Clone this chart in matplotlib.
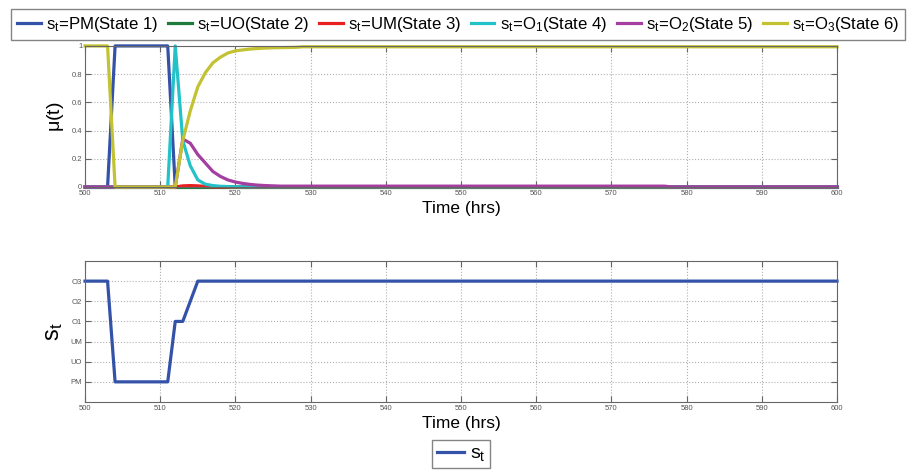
import numpy as np
import matplotlib.pyplot as plt
from matplotlib.lines import Line2D

plt.rcParams['font.family'] = ['Liberation Sans', 'DejaVu Sans']
plt.rcParams['mathtext.fontset'] = 'custom'
plt.rcParams['mathtext.rm'] = 'Liberation Sans'
plt.rcParams['mathtext.it'] = 'Liberation Sans'

# time axis, hourly samples
t = list(range(500, 601))

# membership values, hours 500..530, then flat to 600
pm_head = [0, 0, 0, 0, 1, 1, 1, 1, 1, 1, 1, 1, 0, 0, 0, 0]
o1_head = [0, 0, 0, 0, 0, 0, 0, 0, 0, 0, 0, 0, 1.0, 0.33, 0.15, 0.05,
           0.02, 0.01, 0.005, 0.003, 0.002]
o2_head = [0, 0, 0, 0, 0, 0, 0, 0, 0, 0, 0, 0, 0, 0.34, 0.31, 0.23,
           0.17, 0.11, 0.075, 0.05, 0.035, 0.025, 0.018, 0.013, 0.01, 0.008]
o3_head = [1, 1, 1, 1, 0, 0, 0, 0, 0, 0, 0, 0, 0, 0.33, 0.54, 0.71,
           0.81, 0.88, 0.92, 0.95, 0.965, 0.972, 0.978, 0.982, 0.985,
           0.987, 0.988, 0.989, 0.99]
um_head = [0, 0, 0, 0, 0, 0, 0, 0, 0, 0, 0, 0, 0, 0.008, 0.01, 0.008, 0.004]

n = len(t)
mu_pm = pm_head + [0] * (n - len(pm_head))
mu_uo = [0] * n
mu_um = um_head + [0] * (n - len(um_head))
mu_o1 = o1_head + [0.001] * (n - len(o1_head))
mu_o2 = o2_head + [0.006] * (578 - 500 - len(o2_head)) + [0.001] * (601 - 578)
mu_o3 = o3_head + [0.994] * (n - len(o3_head))

# state sequence (1=PM ... 6=O3)
state_head = [6, 6, 6, 6, 1, 1, 1, 1, 1, 1, 1, 1, 4, 4, 5, 6]
state = state_head + [6] * (n - len(state_head))
state_ticks = [1, 2, 3, 4, 5, 6]
state_names = ['PM', 'UO', 'UM', 'O1', 'O2', 'O3']

colors = ['#3352a8', '#1e7b3c', '#e82020', '#22c2c8', '#a43ea0', '#c2c232']
labels = [r'$\mathregular{s_t}$=PM(State 1)', r'$\mathregular{s_t}$=UO(State 2)',
          r'$\mathregular{s_t}$=UM(State 3)', r'$\mathregular{s_t}$=O$\mathregular{_1}$(State 4)',
          r'$\mathregular{s_t}$=O$\mathregular{_2}$(State 5)', r'$\mathregular{s_t}$=O$\mathregular{_3}$(State 6)']
series = [mu_pm, mu_uo, mu_um, mu_o1, mu_o2, mu_o3]

fig = plt.figure(figsize=(9.16, 4.71), dpi=100)
ax1 = fig.add_axes([0.0928, 0.603, 0.821, 0.2995])
ax2 = fig.add_axes([0.0928, 0.1465, 0.821, 0.2994])

for ys, c in zip(series, colors):
    ax1.plot(t, ys, color=c, lw=2.3, clip_on=False)
ax1.set_xlim(500, 600)
ax1.set_ylim(0, 1)
ax1.set_xticks(range(500, 601, 10))
ax1.set_yticks([0, 0.2, 0.4, 0.6, 0.8, 1])
ax1.set_yticklabels(['0', '0.2', '0.4', '0.6', '0.8', '1'])
ax1.set_xlabel('Time (hrs)', fontsize=12.5, labelpad=3)
ax1.set_ylabel(r'$\mathregular{\mu(t)}$', fontsize=14, labelpad=4)

ax2.plot(t, state, color=colors[0], lw=2.3, clip_on=False)
ax2.set_xlim(500, 600)
ax2.set_ylim(0, 7)
ax2.set_xticks(range(500, 601, 10))
ax2.set_yticks(state_ticks)
ax2.set_yticklabels(state_names)
ax2.set_xlabel('Time (hrs)', fontsize=12.5, labelpad=3)
ax2.set_ylabel(r'$\mathregular{s_t}$', fontsize=17, labelpad=4)

for ax in (ax1, ax2):
    ax.grid(True, linestyle=':', color='#b0b0b0', lw=0.8)
    ax.tick_params(direction='in', top=True, right=True, labelsize=5.5,
                   labelcolor='#555555', color='#666666', length=4, pad=2)
    for s in ax.spines.values():
        s.set_color('#666666')

handles = [Line2D([], [], color=c, lw=2.3) for c in colors]
fig.legend(handles, labels, loc='upper center', bbox_to_anchor=(0.5, 0.998),
           ncol=6, fontsize=12.1, frameon=True, fancybox=False, edgecolor='#666666',
           handlelength=1.4, handletextpad=0.3, columnspacing=0.6,
           borderpad=0.35)
ax2.legend([Line2D([], [], color=colors[0], lw=2.3)], [r'$\mathregular{s_t}$'],
           loc='upper center', bbox_to_anchor=(0.5, -0.2), fontsize=14,
           frameon=True, fancybox=False, edgecolor='#666666',
           handlelength=1.4, handletextpad=0.3, borderpad=0.25)

fig.savefig('out.png', dpi=100)
